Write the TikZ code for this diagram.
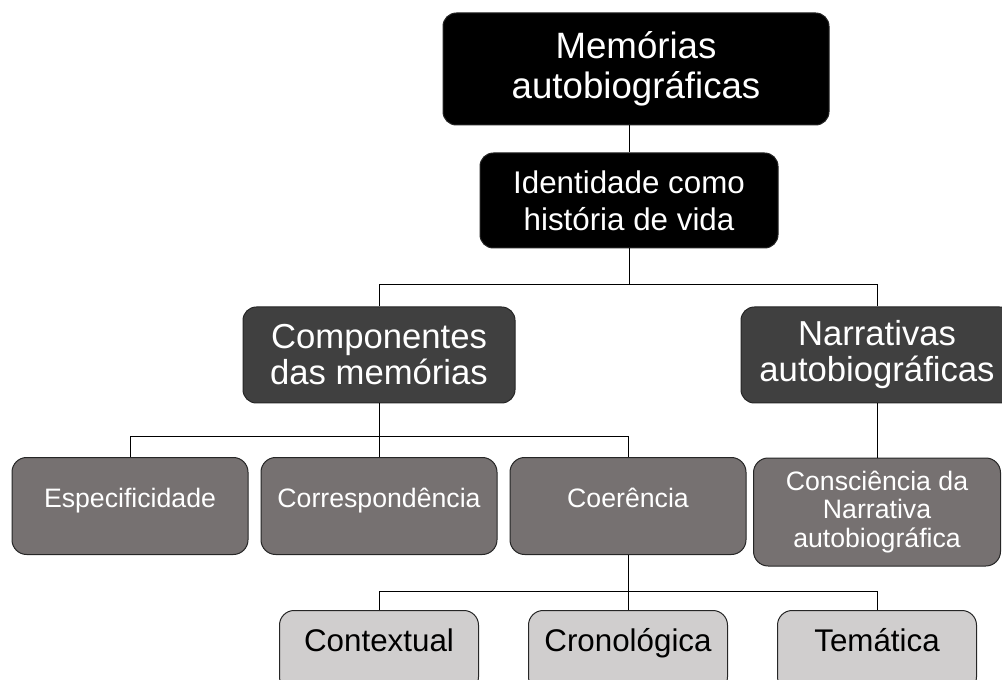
\documentclass[tikz,border=0pt]{standalone}
\usepackage{fontspec}
\setmainfont{Liberation Sans}
\usepackage{tikz}
\usetikzlibrary{positioning,calc}
\definecolor{boxdark}{HTML}{404040}
\definecolor{boxmid}{HTML}{767171}
\definecolor{boxlight}{HTML}{D0CECE}
\definecolor{boxline}{HTML}{262626}

\begin{document}
\begin{tikzpicture}[x=0.75pt,y=-0.75pt,
    rootbox/.style={rounded corners=10pt, fill=black, draw=boxline, line width=0.75pt,
                 text=white, align=center, inner sep=0pt},
    headbox/.style={rounded corners=10pt, fill=boxdark, draw=boxline, line width=0.75pt,
                 text=white, align=center, inner sep=0pt,
                 minimum width=204pt, minimum height=72pt,
                 font=\fontsize{26pt}{27pt}\selectfont},
    midbox/.style={rounded corners=11pt, fill=boxmid, draw=boxline, line width=0.75pt,
                 text=white, align=center, inner sep=0pt,
                 minimum width=177pt, minimum height=72.75pt,
                 font=\fontsize{20pt}{21.4pt}\selectfont},
    leafbox/.style={rounded corners=11pt, fill=boxlight, draw=boxline, line width=0.75pt,
                 text=black, anchor=north, inner sep=0pt,
                 minimum width=149.25pt, text height=30.75pt, text depth=30pt,
                 font=\fontsize{23.5pt}{26pt}\selectfont},
    link/.style={draw=black, line width=0.75pt},
  ]
  \useasboundingbox (0,0) rectangle (1002,680);
  % top of the tree
  \node[rootbox, minimum width=289.5pt, minimum height=84pt,
        font=\fontsize{27.5pt}{30pt}\selectfont] (mem) at (636,69) {Memórias\\autobiográficas};
  \node[rootbox, minimum width=223.5pt, minimum height=71.25pt,
        font=\fontsize{23.5pt}{28pt}\selectfont] (ident) at (629,200.5) {Identidade como\\história de vida};
  % second level
  \node[headbox] (comp) at (379,355) {Componentes\\das memórias};
  \node[headbox] (narr) at (877,355) {Narrativas\\autobiográficas};
  % third level
  \node[midbox, text height=12pt, text depth=9.7pt] (esp) at (130,506) {Especificidade};
  \node[midbox, text height=12pt, text depth=9.7pt] (corr) at (379,506) {Correspondência};
  \node[midbox, text height=12pt, text depth=9.7pt] (coer) at (628,506) {Coerência};
  \node[midbox, minimum width=185.25pt, minimum height=81pt] (cons) at (877,512)
       {Consciência da\\Narrativa\\autobiográfica};
  % leaves
  \node[leafbox] (ctx) at (379,610) {Contextual};
  \node[leafbox] (cron) at (628,610) {Cronológica};
  \node[leafbox] (tem) at (877,610) {Temática};

  % connectors
  \draw[link] (mem.south -| ident.north) -- (ident.north);
  \draw[link] (ident.south) -- ++(0,36) coordinate (j1) -| (comp.north);
  \draw[link] (j1) -| (narr.north);
  \draw[link] (comp.south) -- ++(0,33) coordinate (j2) -| (esp.north);
  \draw[link] (j2) -- (corr.north);
  \draw[link] (j2) -| (coer.north);
  \draw[link] (narr.south) -- (cons.north);
  \draw[link] (coer.south) -- ++(0,36) coordinate (j3) -| (ctx.north);
  \draw[link] (j3) -- (cron.north);
  \draw[link] (j3) -| (tem.north);
\end{tikzpicture}
\end{document}
